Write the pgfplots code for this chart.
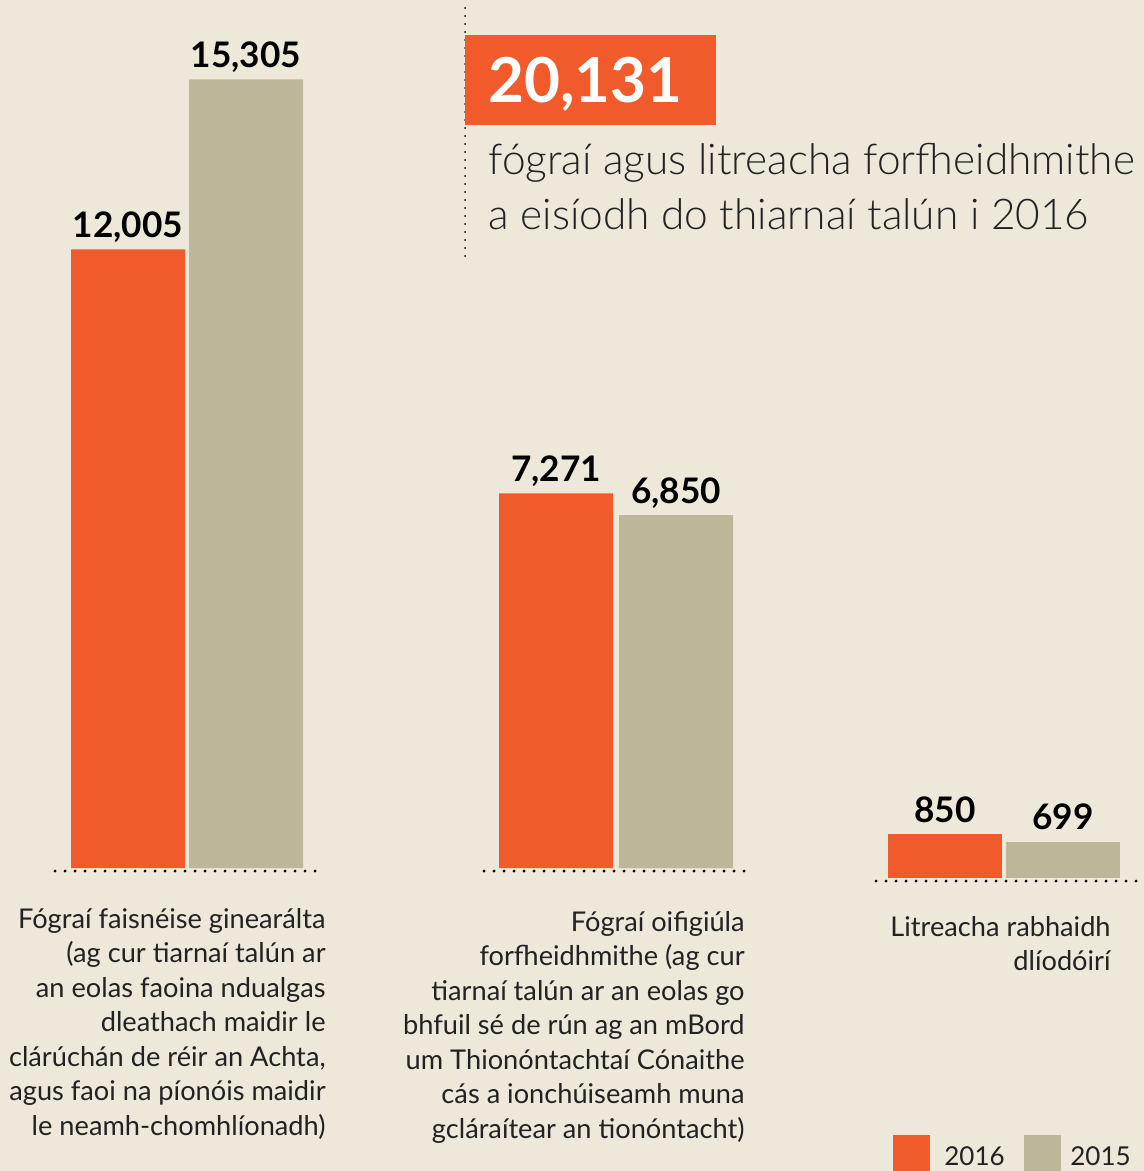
\documentclass[border=0pt]{standalone}
\usepackage{pgfplots}
\pgfplotsset{compat=1.18}
\usepackage{fontspec}
\setmainfont{Lato}
\IfFontExistsTF{Lato Light}{\newfontfamily\lightfont{Lato Light}}{\newfontfamily\lightfont{Lato}}
\definecolor{bg}{HTML}{EDE8DA}
\definecolor{orng}{HTML}{F15A2B}
\definecolor{grey}{HTML}{BCB798}
\definecolor{tx}{HTML}{222222}
\pgfplotsset{grp/.style={x=0.5pt,y=0.02575pt,xmin=0,xmax=1144,ymin=0,ymax=16000,
  hide axis,clip=false,anchor=south west,ybar,bar width=57pt,bar shift=0pt,
  nodes near coords={\pgfmathprintnumber[assume math mode=true,1000 sep={,}]{\pgfplotspointmeta}},
  every node near coord/.append style={anchor=base,yshift=6pt,inner sep=0pt,
    font=\bfseries\fontsize{17.6}{17.6}\selectfont,text=black}}}
\tikzset{dots/.style={line width=1.6pt,line cap=round,dash pattern=on 0pt off 5pt,black}}
\begin{document}
\begin{tikzpicture}[x=0.5pt,y=-0.5pt]
\fill[bg] (0,0) rectangle (1144,1171);
\coordinate (A) at (0,868);
\coordinate (B) at (0,878);
% title block
\draw[line width=1pt,line cap=round,dash pattern=on 0pt off 4pt] (465,8) -- (465,260);
\fill[orng] (465,35) rectangle (716,125);
\node[anchor=base west,inner sep=0pt,text=white,font=\bfseries\fontsize{31}{31}\selectfont] at (488,103) {20,131};
\node[anchor=base west,inner sep=0pt,text=tx,font=\lightfont\fontsize{21.2}{21.2}\selectfont] at (488,175) {fógraí agus litreacha forfheidhmithe};
\node[anchor=base west,inner sep=0pt,text=tx,font=\lightfont\fontsize{21.2}{21.2}\selectfont] at (488,230) {a eisíodh do thiarnaí talún i 2016};
% groups 1 and 2
\begin{axis}[grp,at={(A)}]
\addplot[fill=orng,draw=none] coordinates {(128,12005) (556,7271)};
\addplot[fill=grey,draw=none] coordinates {(246,15305) (676,6850)};
\draw[dots] (55,-60) -- (318,-60);
\draw[dots] (484,-60) -- (746,-60);
\end{axis}
% group 3
\begin{axis}[grp,at={(B)}]
\addplot[fill=orng,draw=none] coordinates {(945,850)};
\addplot[fill=grey,draw=none] coordinates {(1063,699)};
\draw[dots] (876,-60) -- (1140,-60);
\end{axis}
% category labels
\begin{scope}[every node/.style={anchor=north east,align=right,inner sep=0pt,text=tx,font=\fontsize{13.6}{17.25}\selectfont}]
\node at (326,908) {Fógraí faisnéise ginearálta\\(ag cur tiarnaí talún ar\\an eolas faoina ndualgas\\dleathach maidir le\\clárúchán de réir an Achta,\\agus faoi na píonóis maidir\\le neamh-chomhlíonadh)};
\node at (745,911) {Fógraí oifigiúla\\forfheidhmithe (ag cur\\tiarnaí talún ar an eolas go\\bhfuil sé de rún ag an mBord\\um Thionóntachtaí Cónaithe\\cás a ionchúiseamh muna\\gcláraítear an tionóntacht)};
\node at (1111,916) {Litreacha rabhaidh\\dlíodóirí};
\end{scope}
% legend
\fill[orng] (893,1135) rectangle (930,1171);
\node[anchor=base west,inner sep=0pt,text=tx,font=\fontsize{13}{13}\selectfont] at (944,1165) {2016};
\fill[grey] (1024,1135) rectangle (1061,1171);
\node[anchor=base west,inner sep=0pt,text=tx,font=\fontsize{13}{13}\selectfont] at (1070,1165) {2015};
\pgfresetboundingbox
\useasboundingbox (0,0) rectangle (1144,1171);
\end{tikzpicture}
\end{document}
